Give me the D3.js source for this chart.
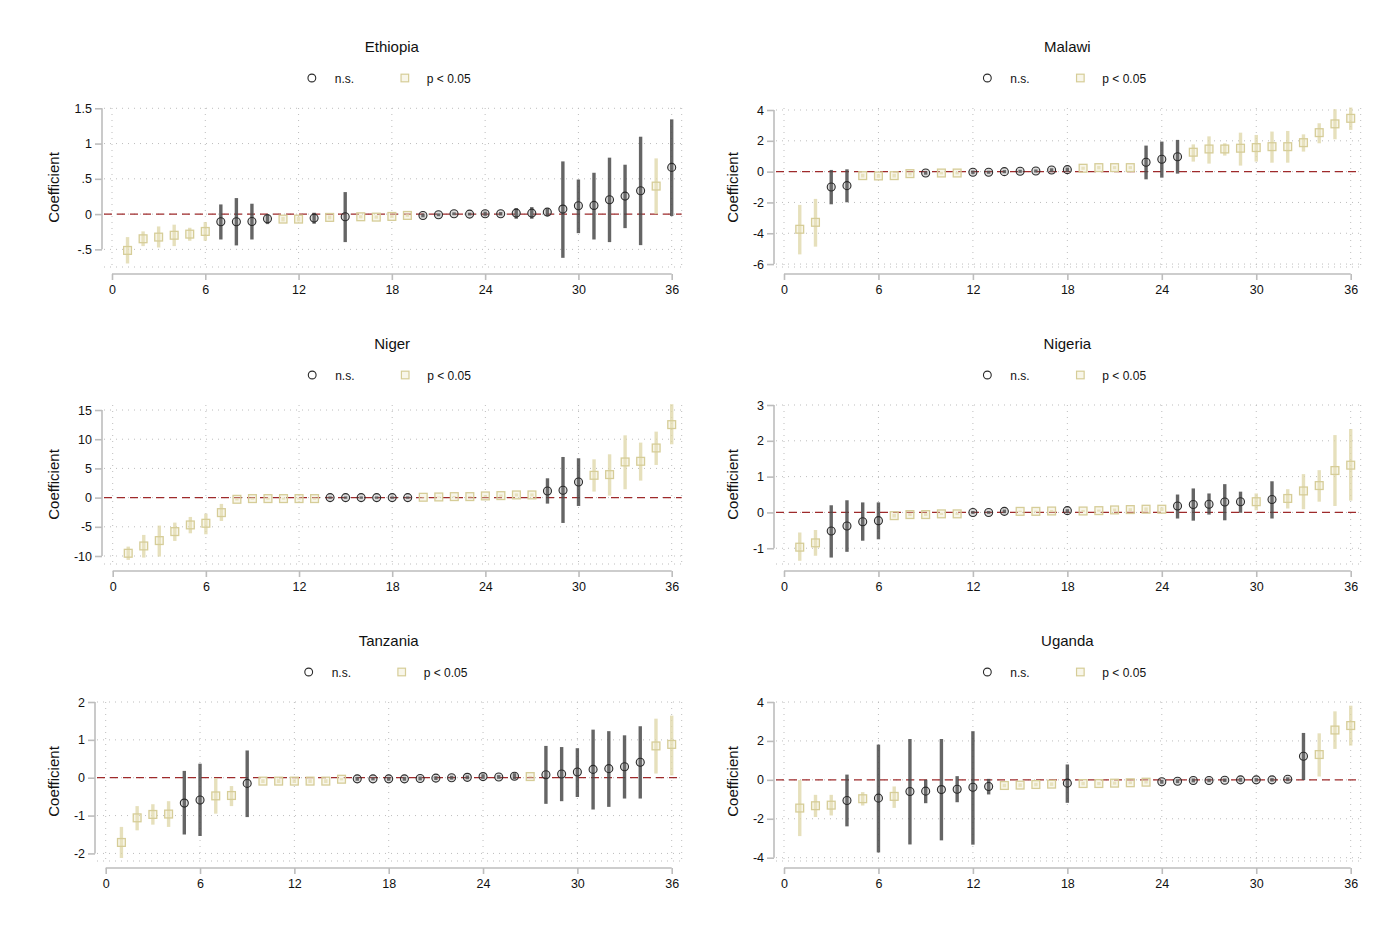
<!DOCTYPE html>
<html><head><meta charset="utf-8">
<script src="https://cdn.jsdelivr.net/npm/d3@7"></script>
<style>
body{margin:0;background:#fff;}
text{font-family:"Liberation Sans",Arial,sans-serif;fill:#111;}
</style></head>
<body><svg id="c" width="1400" height="933"></svg>
<script>
// ---------- data ----------
const lags = d3.range(1, 37);
const xTicks = [0, 6, 12, 18, 24, 30, 36];
const countries = ["Ethiopia", "Malawi", "Niger", "Nigeria", "Tanzania", "Uganda"];
const legendLabels = ["n.s.", "p < 0.05"];
const yAxisTitle = "Coefficient";

const ethEst = [-0.515,-0.35,-0.326,-0.30,-0.284,-0.246,-0.109,-0.109,-0.104,-0.066,-0.071,-0.071,-0.057,-0.047,-0.038,-0.038,-0.043,-0.033,-0.019,-0.019,-0.01,0.005,0,0.005,0.005,0.014,0.014,0.028,0.071,0.118,0.123,0.203,0.255,0.331,0.397,0.662];
const ethLo  = [-0.70,-0.454,-0.473,-0.454,-0.378,-0.378,-0.36,-0.444,-0.36,-0.142,-0.104,-0.104,-0.137,-0.075,-0.397,-0.06,-0.065,-0.055,-0.04,-0.045,-0.03,-0.015,-0.02,-0.025,-0.02,-0.066,-0.066,-0.028,-0.62,-0.27,-0.36,-0.397,-0.199,-0.44,0.0,-0.028];
const ethHi  = [-0.326,-0.245,-0.175,-0.15,-0.194,-0.113,0.137,0.227,0.147,0.0,-0.04,-0.04,0.019,-0.02,0.312,-0.016,-0.02,-0.01,0.0,0.005,0.01,0.025,0.02,0.035,0.03,0.085,0.099,0.076,0.747,0.49,0.586,0.80,0.70,1.097,0.79,1.343];
const ethSig = [1,1,1,1,1,1,0,0,0,0,1,1,0,1,0,1,1,1,1,0,0,0,0,0,0,0,0,0,0,0,0,0,0,0,1,0];
const ethTicks = [-0.5, 0, 0.5, 1, 1.5];
const ethTickLabels = ["-.5", "0", ".5", "1", "1.5"];
const ethDomain = [-0.75, 1.504];

const malEst = [-3.74,-3.29,-1.0,-0.91,-0.26,-0.28,-0.26,-0.13,-0.09,-0.09,-0.09,-0.04,-0.04,0,0.02,0.04,0.11,0.13,0.22,0.26,0.26,0.26,0.61,0.80,0.97,1.26,1.47,1.47,1.52,1.56,1.62,1.62,1.88,2.53,3.10,3.46];
const malLo  = [-5.37,-4.87,-2.12,-1.99,-0.38,-0.40,-0.38,-0.25,-0.2,-0.18,-0.18,-0.15,-0.14,-0.1,-0.08,-0.06,-0.02,-0.02,0.12,0.15,0.16,0.16,-0.50,-0.39,-0.13,0.65,0.52,1.04,0.39,0.65,0.58,0.58,1.30,1.84,2.10,2.71];
const malHi  = [-2.16,-1.77,0.11,0.15,-0.14,-0.16,-0.14,-0.02,0.02,-0.01,-0.01,0.07,0.06,0.1,0.12,0.14,0.22,0.26,0.32,0.37,0.36,0.36,1.69,1.95,2.06,1.77,2.29,1.84,2.53,2.38,2.60,2.64,2.42,3.14,4.05,4.16];
const malSig = [1,1,0,0,1,1,1,1,0,1,1,0,0,0,0,0,0,0,1,1,1,1,0,0,0,1,1,1,1,1,1,1,1,1,1,1];
const malTicks = [-6, -4, -2, 0, 2, 4];
const malTickLabels = ["-6", "-4", "-2", "0", "2", "4"];
const malDomain = [-6.19, 4.13];

const nerEst = [-9.53,-8.28,-7.36,-5.82,-4.68,-4.39,-2.57,-0.29,-0.17,-0.17,-0.17,-0.17,-0.17,0,0,0,0,0,0,0.06,0.11,0.17,0.17,0.29,0.34,0.46,0.46,1.14,1.26,2.68,3.82,3.94,6.11,6.22,8.50,12.5];
const nerLo  = [-10.67,-10.27,-10.1,-7.42,-6.11,-6.28,-4.0,-0.5,-0.35,-0.35,-0.35,-0.35,-0.35,-0.2,-0.2,-0.2,-0.2,-0.2,-0.2,0.02,0.04,0.06,0.06,0.12,0.15,0.2,0.2,-1.03,-4.34,-1.43,1.03,0.34,1.43,2.91,5.59,9.13];
const nerHi  = [-8.39,-6.39,-4.79,-4.28,-3.31,-2.74,-1.08,-0.08,-0.02,-0.02,-0.02,-0.02,-0.02,0.2,0.2,0.2,0.2,0.2,0.2,0.1,0.18,0.28,0.28,0.46,0.53,0.72,0.72,3.31,6.96,6.74,6.56,7.42,10.67,9.42,11.3,16.0];
const nerSig = [1,1,1,1,1,1,1,1,1,1,1,1,1,0,0,0,0,0,0,1,1,1,1,1,1,1,1,0,0,0,1,1,1,1,1,1];
const nerTicks = [-10, -5, 0, 5, 10, 15];
const nerTickLabels = ["-10", "-5", "0", "5", "10", "15"];
const nerDomain = [-11.37, 15.86];

const ngaEst = [-0.97,-0.85,-0.52,-0.38,-0.26,-0.23,-0.09,-0.06,-0.06,-0.04,-0.04,0,0,0.03,0.03,0.03,0.04,0.05,0.04,0.05,0.07,0.08,0.09,0.09,0.18,0.22,0.23,0.29,0.30,0.30,0.36,0.39,0.60,0.75,1.17,1.32];
const ngaLo  = [-1.35,-1.21,-1.26,-1.10,-0.79,-0.75,-0.14,-0.1,-0.1,-0.07,-0.07,-0.04,-0.04,-0.02,0.01,0.01,0.01,-0.02,0.01,0.02,0.03,0.04,0.04,0.04,-0.17,-0.23,-0.06,-0.22,-0.01,0.06,-0.17,0.11,0.09,0.30,0.18,0.33];
const ngaHi  = [-0.56,-0.49,0.20,0.34,0.28,0.28,-0.04,-0.02,-0.02,-0.01,-0.01,0.04,0.04,0.08,0.05,0.05,0.07,0.09,0.07,0.08,0.11,0.12,0.14,0.14,0.50,0.67,0.53,0.79,0.58,0.53,0.87,0.65,1.07,1.18,2.16,2.33];
const ngaSig = [1,1,0,0,0,0,1,1,1,1,1,0,0,0,1,1,1,0,1,1,1,1,1,1,0,0,0,0,0,1,0,1,1,1,1,1];
const ngaTicks = [-1, 0, 1, 2, 3];
const ngaTickLabels = ["-1", "0", "1", "2", "3"];
const ngaDomain = [-1.44, 3];

const tzaEst = [-1.71,-1.06,-0.97,-0.96,-0.67,-0.59,-0.48,-0.47,-0.15,-0.09,-0.09,-0.09,-0.09,-0.09,-0.04,-0.03,-0.03,-0.03,-0.03,-0.02,-0.01,0,0.01,0.03,0.02,0.04,0.03,0.08,0.10,0.15,0.22,0.24,0.29,0.41,0.84,0.88];
const tzaLo  = [-2.12,-1.39,-1.24,-1.30,-1.50,-1.54,-0.95,-0.75,-1.04,-0.14,-0.14,-0.14,-0.14,-0.14,-0.07,-0.08,-0.07,-0.08,-0.08,-0.07,-0.06,-0.05,-0.04,-0.03,-0.03,-0.04,0.01,-0.69,-0.62,-0.51,-0.84,-0.77,-0.55,-0.55,0.11,0.06];
const tzaHi  = [-1.30,-0.75,-0.70,-0.62,0.18,0.37,-0.01,-0.22,0.72,-0.04,-0.04,-0.04,-0.04,-0.04,-0.01,0.02,0.01,0.02,0.02,0.03,0.04,0.05,0.06,0.09,0.07,0.12,0.05,0.84,0.81,0.78,1.27,1.23,1.12,1.36,1.56,1.64];
const tzaSig = [1,1,1,1,0,0,1,1,0,1,1,1,1,1,1,0,0,0,0,0,0,0,0,0,0,0,1,0,0,0,0,0,0,0,1,1];
const tzaTicks = [-2, -1, 0, 1, 2];
const tzaTickLabels = ["-2", "-1", "0", "1", "2"];
const tzaDomain = [-2.2, 2];

const ugaEst = [-1.45,-1.33,-1.30,-1.06,-0.97,-0.94,-0.85,-0.60,-0.58,-0.50,-0.48,-0.38,-0.34,-0.29,-0.27,-0.24,-0.22,-0.17,-0.19,-0.19,-0.17,-0.15,-0.12,-0.10,-0.07,-0.03,-0.03,-0.02,0,0,0,0.03,1.21,1.30,2.56,2.79];
const ugaLo  = [-2.89,-1.91,-1.83,-2.39,-1.32,-3.73,-1.44,-3.32,-1.20,-3.11,-1.15,-3.33,-0.75,-0.38,-0.36,-0.33,-0.31,-1.18,-0.28,-0.27,-0.25,-0.22,-0.19,-0.2,-0.17,-0.13,-0.12,-0.11,-0.1,-0.09,-0.09,-0.07,-0.01,0.17,1.59,1.76];
const ugaHi  = [-0.01,-0.77,-0.77,0.27,-0.63,1.81,-0.34,2.10,0.01,2.10,0.19,2.50,0.05,-0.2,-0.18,-0.15,-0.13,0.79,-0.1,-0.11,-0.09,-0.08,-0.05,0.0,0.03,0.07,0.06,0.07,0.1,0.09,0.09,0.13,2.41,2.39,3.52,3.81];
const ugaSig = [1,1,1,0,1,0,1,0,0,0,0,0,0,1,1,1,1,0,1,1,1,1,1,0,0,0,0,0,0,0,0,0,0,1,1,1];
const ugaTicks = [-4, -2, 0, 2, 4];
const ugaTickLabels = ["-4", "-2", "0", "2", "4"];
const ugaDomain = [-4.17, 4];

const panelData = [
  {est: ethEst, lo: ethLo, hi: ethHi, sig: ethSig, ticks: ethTicks, labels: ethTickLabels, domain: ethDomain},
  {est: malEst, lo: malLo, hi: malHi, sig: malSig, ticks: malTicks, labels: malTickLabels, domain: malDomain},
  {est: nerEst, lo: nerLo, hi: nerHi, sig: nerSig, ticks: nerTicks, labels: nerTickLabels, domain: nerDomain},
  {est: ngaEst, lo: ngaLo, hi: ngaHi, sig: ngaSig, ticks: ngaTicks, labels: ngaTickLabels, domain: ngaDomain},
  {est: tzaEst, lo: tzaLo, hi: tzaHi, sig: tzaSig, ticks: tzaTicks, labels: tzaTickLabels, domain: tzaDomain},
  {est: ugaEst, lo: ugaLo, hi: ugaHi, sig: ugaSig, ticks: ugaTicks, labels: ugaTickLabels, domain: ugaDomain}
];

// ---------- layout & style ----------
const rowTop = [108, 405, 702];
const plotH = 159;
const layout = [
  {x0: 112, x1: 671.7, ax: 102, tx: 59},
  {x0: 784, x1: 1350.7, ax: 774, tx: 738},
  {x0: 112.7, x1: 671.7, ax: 102, tx: 59},
  {x0: 784, x1: 1350.7, ax: 774, tx: 738},
  {x0: 105.7, x1: 671.7, ax: 95, tx: 59},
  {x0: 784, x1: 1350.7, ax: 774, tx: 738}
];
const C = {
  nsBar: "#4a4a4a", nsStroke: "#2b2b2b",
  sigBar: "#ddd5a6", sigStroke: "#d6cd98", sigFill: "rgba(235,230,195,0.35)",
  axis: "#bdbdbd", grid: "#bdbdbd", zero: "#9e2a2b"
};

const svg = d3.select("#c");

countries.forEach((name, i) => {
  const d = panelData[i], L = layout[i];
  const top = rowTop[Math.floor(i / 2)];
  const bottom = top + plotH;
  const axisY = top + 166;
  const right = L.x1 + 10;
  const x = d3.scaleLinear().domain([0, 36]).range([L.x0, L.x1]);
  const y = d3.scaleLinear().domain(d.domain).range([bottom, top]);
  const g = svg.append("g");
  const cx = (L.x0 + L.x1) / 2;

  // title
  g.append("text").attr("x", cx).attr("y", top - 56).attr("text-anchor", "middle")
    .style("font-size", "15px").text(name);
  // legend
  const ly = top - 30;
  g.append("circle").attr("cx", cx - 80).attr("cy", ly).attr("r", 3.9)
    .attr("fill", "none").attr("stroke", C.nsStroke).attr("stroke-width", 1.1);
  g.append("text").attr("x", cx - 57).attr("y", ly + 4.5).style("font-size", "12px").text(legendLabels[0]);
  g.append("rect").attr("x", cx + 13 - 3.8).attr("y", ly - 3.8).attr("width", 7.6).attr("height", 7.6)
    .attr("fill", C.sigFill).attr("stroke", C.sigStroke).attr("stroke-width", 1.2);
  g.append("text").attr("x", cx + 35).attr("y", ly + 4.5).style("font-size", "12px").text(legendLabels[1]);

  // grid
  const grid = g.append("g").attr("stroke", C.grid).attr("stroke-width", 1).attr("stroke-dasharray", "1,5");
  d.ticks.forEach(t => grid.append("line").attr("x1", L.ax + 2).attr("x2", right)
    .attr("y1", y(t)).attr("y2", y(t)));
  grid.append("line").attr("x1", L.ax + 2).attr("x2", right).attr("y1", bottom).attr("y2", bottom);
  xTicks.forEach(t => grid.append("line").attr("x1", x(t)).attr("x2", x(t))
    .attr("y1", top).attr("y2", bottom));
  grid.append("line").attr("x1", right).attr("x2", right).attr("y1", top).attr("y2", bottom);

  // axes
  const yAxis = d3.axisLeft(y).tickValues(d.ticks).tickSize(7).tickPadding(3)
    .tickFormat((v, k) => d.labels[k]);
  const ya = g.append("g").attr("transform", `translate(${L.ax},0)`).call(yAxis);
  ya.select(".domain").remove();
  ya.append("line").attr("x1", 0).attr("x2", 0)
    .attr("y1", y(d.ticks[0])).attr("y2", y(d.ticks[d.ticks.length - 1]))
    .attr("stroke", C.axis).attr("stroke-width", 1.6);
  ya.selectAll(".tick line").attr("stroke", C.axis).attr("stroke-width", 1.6);
  ya.selectAll(".tick text").style("font-size", "12.5px").attr("fill", "#111")
    .style("font-family", '"Liberation Sans",Arial,sans-serif');

  const xAxis = d3.axisBottom(x).tickValues(xTicks).tickSize(6).tickPadding(5);
  const xa = g.append("g").attr("transform", `translate(0,${axisY})`).call(xAxis);
  xa.select(".domain").remove();
  xa.append("line").attr("x1", x(0)).attr("x2", x(36)).attr("y1", 0).attr("y2", 0)
    .attr("stroke", C.axis).attr("stroke-width", 1.6);
  xa.selectAll(".tick line").attr("stroke", C.axis).attr("stroke-width", 1.6);
  xa.selectAll(".tick text").style("font-size", "12.5px").attr("fill", "#111")
    .style("font-family", '"Liberation Sans",Arial,sans-serif');

  // y title
  g.append("text").attr("transform", `translate(${L.tx},${(top + bottom) / 2}) rotate(-90)`)
    .attr("text-anchor", "middle").style("font-size", "15px").text(yAxisTitle);

  // zero line
  g.append("line").attr("x1", L.ax + 2).attr("x2", right).attr("y1", y(0)).attr("y2", y(0))
    .attr("stroke", C.zero).attr("stroke-width", 1.2).attr("stroke-dasharray", "8,5");

  const pts = lags.map((lag, k) => ({lag, est: d.est[k], lo: d.lo[k], hi: d.hi[k], sig: d.sig[k]}));

  // CI bars
  g.append("g").selectAll("line").data(pts).join("line")
    .attr("x1", p => x(p.lag)).attr("x2", p => x(p.lag))
    .attr("y1", p => y(p.lo)).attr("y2", p => y(p.hi))
    .attr("stroke", p => p.sig ? C.sigBar : C.nsBar)
    .attr("stroke-opacity", p => p.sig ? 0.75 : 0.85)
    .attr("stroke-width", 3.4);

  // markers
  g.append("g").selectAll("rect").data(pts.filter(p => p.sig)).join("rect")
    .attr("x", p => x(p.lag) - 3.9).attr("y", p => y(p.est) - 3.9)
    .attr("width", 7.8).attr("height", 7.8)
    .attr("fill", C.sigFill).attr("stroke", C.sigStroke).attr("stroke-width", 1.3);
  g.append("g").selectAll("circle").data(pts.filter(p => !p.sig)).join("circle")
    .attr("cx", p => x(p.lag)).attr("cy", p => y(p.est)).attr("r", 4)
    .attr("fill", "rgba(120,120,120,0.25)").attr("stroke", C.nsStroke).attr("stroke-width", 1.1);
});
</script></body></html>
